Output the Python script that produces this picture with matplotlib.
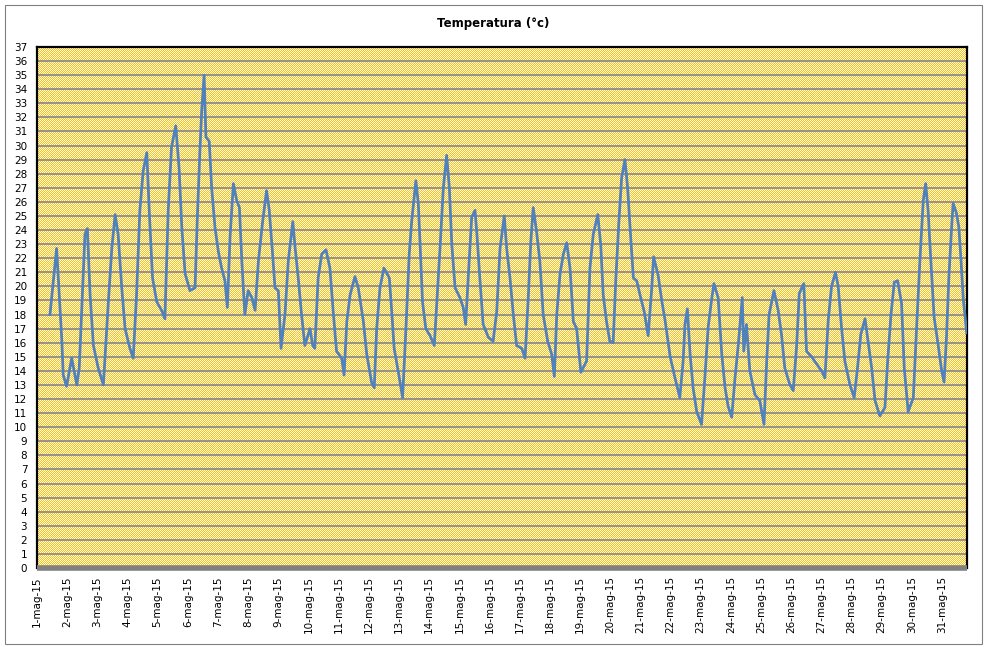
import numpy as np
import matplotlib
matplotlib.use("Agg")
import matplotlib.pyplot as plt
from matplotlib.patches import Rectangle

# Time in days since 1-mag-15 00:00, temperature in degrees C
time_days = [
    0.43, 0.65, 0.82, 0.87, 0.98, 1.15, 1.32, 1.40, 1.48, 1.59, 1.67, 1.76, 1.87, 2.03, 2.20,
    2.36, 2.48, 2.59, 2.69, 2.81, 2.92, 3.08, 3.19, 3.30, 3.41, 3.52, 3.64, 3.72, 3.83, 3.97,
    4.13, 4.24, 4.35, 4.46, 4.60, 4.71, 4.80, 4.91, 5.07, 5.24, 5.31, 5.40, 5.46, 5.54, 5.60,
    5.71, 5.79, 5.90, 6.01, 6.12, 6.23, 6.31, 6.40, 6.51, 6.62, 6.71, 6.79, 6.89, 7.00, 7.12,
    7.23, 7.34, 7.48, 7.61, 7.70, 7.81, 7.89, 8.00, 8.09, 8.22, 8.33, 8.48, 8.55, 8.66, 8.77,
    8.88, 9.05, 9.14, 9.21, 9.32, 9.44, 9.58, 9.71, 9.82, 9.93, 10.10, 10.18, 10.27, 10.38, 10.54,
    10.65, 10.82, 10.93, 11.09, 11.18, 11.26, 11.37, 11.50, 11.68, 11.76, 11.84, 11.98, 12.12, 12.23, 12.34,
    12.42, 12.56, 12.64, 12.70, 12.78, 12.89, 13.03, 13.17, 13.27, 13.36, 13.47, 13.58, 13.67, 13.75, 13.86,
    14.02, 14.13, 14.21, 14.30, 14.41, 14.52, 14.59, 14.68, 14.79, 14.96, 15.12, 15.24, 15.35, 15.49, 15.57,
    15.68, 15.79, 15.90, 16.07, 16.18, 16.29, 16.37, 16.45, 16.56, 16.67, 16.78, 16.93, 17.06, 17.15, 17.23,
    17.34, 17.45, 17.56, 17.67, 17.78, 17.89, 17.97, 18.03, 18.22, 18.33, 18.44, 18.59, 18.69, 18.77, 18.88,
    18.99, 19.10, 19.19, 19.29, 19.38, 19.49, 19.58, 19.66, 19.77, 19.88, 19.99, 20.13, 20.26, 20.38, 20.44,
    20.59, 20.71, 20.82, 20.99, 21.15, 21.31, 21.42, 21.48, 21.56, 21.65, 21.75, 21.87, 22.03, 22.14, 22.25,
    22.36, 22.44, 22.58, 22.70, 22.81, 22.91, 23.03, 23.14, 23.25, 23.38, 23.43, 23.52, 23.63, 23.80, 23.96,
    24.10, 24.19, 24.27, 24.43, 24.57, 24.68, 24.79, 24.96, 25.07, 25.18, 25.27, 25.42, 25.51, 25.68, 25.84,
    26.01, 26.12, 26.23, 26.34, 26.47, 26.56, 26.67, 26.78, 26.95, 27.09, 27.20, 27.31, 27.45, 27.55, 27.67,
    27.78, 27.94, 28.11, 28.20, 28.31, 28.42, 28.53, 28.66, 28.75, 28.88, 29.05, 29.16, 29.27, 29.38, 29.46,
    29.54, 29.63, 29.74, 29.87, 29.99, 30.07, 30.11, 30.15, 30.23, 30.32, 30.37, 30.48, 30.56, 30.63, 30.71,
    30.76, 30.82,
]
temp_c = [
    18.0, 22.7, 16.3, 13.7, 12.9, 14.9, 13.0, 14.2, 18.2, 23.7, 24.1, 19.4, 15.8, 14.2, 13.0,
    18.7, 22.7, 25.1, 23.7, 19.9, 17.0, 15.6, 14.9, 19.4, 25.4, 28.2, 29.5, 25.4, 20.6, 18.9,
    18.3, 17.7, 25.4, 29.9, 31.4, 28.4, 24.2, 20.9, 19.7, 19.9, 24.6, 29.6, 32.5, 35.0, 30.6,
    30.3, 27.0, 24.2, 22.5, 21.3, 20.4, 18.5, 23.5, 27.3, 26.1, 25.6, 21.8, 18.0, 19.7, 19.2,
    18.3, 21.8, 24.6, 26.8, 25.4, 22.3, 19.9, 19.7, 15.6, 18.0, 21.8, 24.6, 22.9, 20.6, 18.0,
    15.8, 17.0, 15.8, 15.6, 20.6, 22.3, 22.6, 21.3, 18.2, 15.4, 14.9, 13.7, 17.5, 19.4, 20.7,
    19.9, 17.5, 15.2, 13.2, 12.8, 17.0, 19.9, 21.3, 20.6, 18.2, 15.6, 13.9, 12.1, 17.0, 22.3,
    24.6, 27.5, 25.9, 23.0, 18.9, 17.0, 16.5, 15.8, 19.4, 22.7, 27.0, 29.3, 27.0, 23.0, 19.9,
    19.2, 18.5, 17.3, 20.8, 24.9, 25.4, 23.5, 20.6, 17.3, 16.4, 16.1, 18.2, 22.7, 25.0, 22.7,
    20.6, 18.0, 15.8, 15.6, 14.9, 19.4, 23.2, 25.6, 23.9, 21.8, 18.0, 16.1, 15.2, 13.6, 18.0,
    20.9, 22.3, 23.1, 21.3, 17.5, 17.0, 15.2, 13.9, 14.7, 21.3, 23.7, 25.1, 22.9, 19.4, 17.5,
    16.1, 16.0, 20.6, 24.6, 27.7, 29.0, 27.0, 24.2, 20.6, 20.4, 19.4, 18.2, 16.5, 19.9, 22.1,
    20.8, 19.0, 17.6, 15.0, 13.5, 12.1, 14.7, 17.3, 18.4, 15.2, 12.8, 11.1, 10.2, 13.5, 17.1,
    19.0, 20.2, 19.2, 15.2, 12.8, 11.5, 10.7, 13.5, 15.9, 19.2, 15.4, 17.3, 14.0, 12.3, 11.9,
    10.2, 14.7, 18.0, 19.7, 18.3, 16.6, 14.2, 13.0, 12.6, 15.7, 19.5, 20.2, 15.4, 15.0, 14.5,
    14.0, 13.5, 17.6, 20.0, 21.0, 20.0, 17.1, 14.7, 13.0, 12.1, 14.2, 16.6, 17.7, 16.1, 14.2,
    11.9, 10.8, 11.4, 14.7, 18.0, 20.3, 20.4, 18.8, 14.2, 11.1, 12.1, 17.1, 21.9, 26.1, 27.3,
    25.4, 21.9, 17.8, 15.9, 14.0, 13.2, 14.8, 16.4, 20.7, 24.2, 25.9, 25.2, 24.2, 21.9, 19.0,
    18.0, 16.7,
]
day_labels = [f"{d}-mag-15" for d in range(1, 32)]
y_ticks = list(range(0, 38))

W, H = 986, 647
fig = plt.figure(figsize=(W / 100, H / 100), dpi=100)

# plot area in pixels (left, top, right, bottom)
L, T, R, B = 37, 47, 967, 568
ax = fig.add_axes([L / W, (H - B) / H, (R - L) / W, (B - T) / H])
ax.set_facecolor("none")

# Excel-like dithered background: yellow / white checkerboard, drawn under the axes
pw, ph = R - L, B - T
yy, xx = np.mgrid[0:ph, 0:pw]
checker = ((xx + yy) % 2).astype(bool)
bg = np.empty((ph, pw, 3), dtype=np.uint8)
bg[checker] = (255, 192, 0)
bg[~checker] = (255, 255, 255)
fig.figimage(bg, xo=L, yo=H - B, origin="upper", zorder=-5)

ax.plot(time_days, temp_c, color="#4F81BD", lw=2.0, zorder=3, solid_joinstyle="round")

ax.set_xlim(0, 30.83)
ax.set_ylim(0, 37)
ax.set_yticks(y_ticks)
ax.set_yticklabels([str(v) for v in y_ticks])
ax.set_xticks(range(len(day_labels)))
ax.set_xticklabels(day_labels, rotation=90, va="top", ha="center")
ax.tick_params(axis="both", length=0, labelsize=7.5, colors="black")
ax.tick_params(axis="x", pad=6)
ax.tick_params(axis="y", pad=7)

ax.yaxis.grid(True, color="#8C8C8C", lw=1.3, zorder=1)
ax.set_axisbelow(True)

for side in ("left", "top", "right"):
    ax.spines[side].set_color("black")
    ax.spines[side].set_linewidth(1.6)
ax.spines["bottom"].set_color("#808080")
ax.spines["bottom"].set_linewidth(4.0)
ax.spines["bottom"].set_capstyle("butt")

fig.text(493 / W, 1 - 23 / H, "Temperatura (°c)", ha="center", va="center",
         fontsize=8.5, fontweight="bold")

fig.patches.append(Rectangle((5 / W, 3 / H), 977 / W, 639 / H, fill=False,
                             edgecolor="#808080", lw=0.8, transform=fig.transFigure))

fig.savefig("out.png", dpi=100)
